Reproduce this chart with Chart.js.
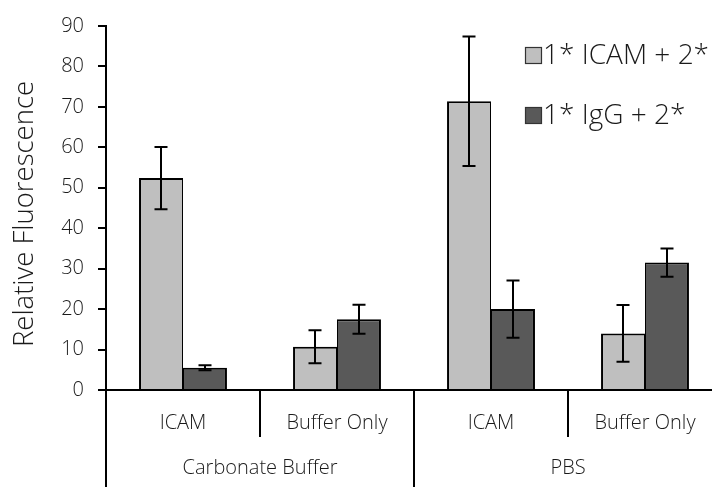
<!DOCTYPE html>
<html>
<head>
<meta charset="utf-8">
<script src="https://cdn.jsdelivr.net/npm/chart.js@4/dist/chart.umd.min.js"></script>
<style>
  html, body { margin: 0; padding: 0; overflow: hidden; background: #ffffff; }
  canvas { display: block; }
</style>
</head>
<body>
<canvas id="chart" width="730" height="487"></canvas>
<script>
// Coating buffer groups and the well treatment inside each group
const groups = ['Carbonate Buffer', 'PBS'];
const conditions = ['ICAM', 'Buffer Only'];
const seriesNames = ['1* ICAM + 2*', '1* IgG + 2*'];

// Mean relative fluorescence and its error (±) per category
const icamValues = [52.4, 10.7, 71.4, 14.0];
const icamErrors = [7.7, 4.1, 16.0, 7.0];
const iggValues = [5.5, 17.5, 20.0, 31.5];
const iggErrors = [0.6, 3.6, 7.1, 3.5];

// Value axis
const yMin = 0;
const yMax = 90;
const yStep = 10;
const yTitle = 'Relative Fluorescence';

const FONT = '"Open Sans", "Segoe UI", "DejaVu Sans", sans-serif';
const INK = '#000000';

const categories = groups.flatMap(() => conditions);

// Whiskers, two-level category axis, axis title and legend
const decor = {
  id: 'decor',
  afterDatasetsDraw(chart) {
    const ctx = chart.ctx;
    const y = chart.scales.y;
    const errs = [icamErrors, iggErrors];
    ctx.save();
    ctx.strokeStyle = INK;
    ctx.lineWidth = 2;
    chart.data.datasets.forEach((ds, d) => {
      const meta = chart.getDatasetMeta(d);
      meta.data.forEach((bar, i) => {
        const v = ds.data[i], e = errs[d][i];
        const yt = y.getPixelForValue(v + e);
        const yb = y.getPixelForValue(v - e);
        const x = Math.round(bar.x);
        ctx.beginPath();
        ctx.moveTo(x, yt); ctx.lineTo(x, yb);
        ctx.moveTo(x - 6.5, yt); ctx.lineTo(x + 6.5, yt);
        ctx.moveTo(x - 6.5, yb); ctx.lineTo(x + 6.5, yb);
        ctx.stroke();
      });
    });
    ctx.restore();
  },
  afterDraw(chart) {
    const ctx = chart.ctx;
    const xs = chart.scales.x;
    const area = chart.chartArea;
    const n = categories.length;
    const w = (xs.right - xs.left) / n;
    ctx.save();
    ctx.strokeStyle = INK;
    ctx.lineWidth = 2;
    // category dividers below the axis; group dividers run to the bottom
    for (let k = 0; k <= n; k++) {
      const bx = Math.round(xs.left + k * w);
      const long = k % conditions.length === 0;
      ctx.beginPath();
      ctx.moveTo(bx, area.bottom);
      ctx.lineTo(bx, long ? chart.height : area.bottom + 47);
      ctx.stroke();
    }
    // group labels
    ctx.fillStyle = '#1a1a1a';
    ctx.font = '300 20px ' + FONT;
    ctx.textAlign = 'center';
    ctx.textBaseline = 'middle';
    groups.forEach((g, gi) => {
      const cx = xs.left + (gi + 0.5) * conditions.length * w;
      ctx.fillText(g, cx, area.bottom + 78);
    });
    // value axis title
    ctx.save();
    ctx.translate(33, 214);
    ctx.rotate(-Math.PI / 2);
    ctx.font = '300 27.5px ' + FONT;
    ctx.textAlign = 'center';
    ctx.textBaseline = 'alphabetic';
    ctx.fillText(yTitle, 0, 0);
    ctx.restore();
    // legend
    const rows = [64, 124];
    chart.data.datasets.forEach((ds, d) => {
      const base = rows[d];
      ctx.fillStyle = ds.backgroundColor;
      ctx.fillRect(525, base - 17, 17, 17);
      ctx.lineWidth = 1.2;
      ctx.strokeStyle = '#333333';
      ctx.strokeRect(525.5, base - 16.5, 16, 16);
      ctx.fillStyle = '#1a1a1a';
      ctx.font = '300 28px ' + FONT;
      ctx.textAlign = 'left';
      ctx.textBaseline = 'alphabetic';
      ctx.fillText(ds.label, 543, base);
    });
    ctx.restore();
  }
};

new Chart(document.getElementById('chart'), {
  type: 'bar',
  data: {
    labels: categories,
    datasets: [
      {
        label: seriesNames[0],
        data: icamValues,
        backgroundColor: '#bfbfbf',
        borderColor: INK,
        borderWidth: { left: 2, top: 2, right: 1, bottom: 0 },
        borderSkipped: 'start'
      },
      {
        label: seriesNames[1],
        data: iggValues,
        backgroundColor: '#595959',
        borderColor: INK,
        borderWidth: { left: 1, top: 2, right: 2, bottom: 0 },
        borderSkipped: 'start'
      }
    ]
  },
  options: {
    responsive: false,
    animation: false,
    devicePixelRatio: 1,
    layout: { padding: { left: 0, right: 8, top: 16, bottom: 0 } },
    plugins: { legend: { display: false }, tooltip: { enabled: false } },
    datasets: { bar: { categoryPercentage: 0.571, barPercentage: 1.0 } },
    scales: {
      x: {
        z: 1,
        grid: { display: false },
        border: { display: true, color: INK, width: 2 },
        ticks: {
          color: '#1a1a1a',
          font: { family: FONT, size: 20, weight: 300 },
          padding: 13,
          maxRotation: 0,
          autoSkip: false
        },
        afterFit(scale) { scale.height = 97; }
      },
      y: {
        z: 1,
        min: yMin,
        max: yMax,
        grid: {
          drawOnChartArea: false,
          drawTicks: true,
          tickLength: 8,
          tickWidth: 2,
          tickColor: INK,
          lineWidth: 2,
          color: INK
        },
        border: { display: true, color: INK, width: 2 },
        ticks: {
          stepSize: yStep,
          color: '#1a1a1a',
          font: { family: FONT, size: 20, weight: 300 },
          padding: 14
        },
        afterFit(scale) { scale.width = 106; }
      }
    }
  },
  plugins: [decor]
});
</script>
</body>
</html>
